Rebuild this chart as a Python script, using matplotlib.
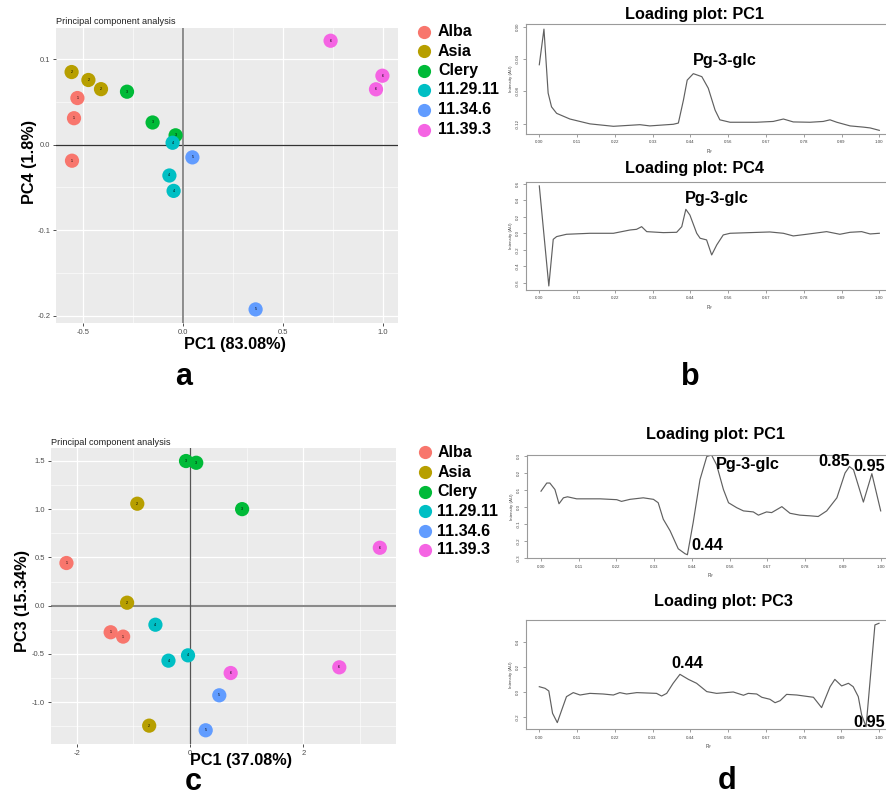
import numpy as np
import matplotlib
matplotlib.use('Agg')
import matplotlib.pyplot as plt
from matplotlib.lines import Line2D

W, H = 886, 796
plt.rcParams['font.family'] = ['Liberation Sans', 'DejaVu Sans']

groups = ['Alba', 'Asia', 'Clery', '11.29.11', '11.34.6', '11.39.3']
colors = ['#F8766D', '#B79F00', '#00BA38', '#00BFC4', '#619CFF', '#F564E3']

# panel a: scores PC1 vs PC4
a_group = [0, 0, 0, 1, 1, 1, 2, 2, 2, 3, 3, 3, 4, 4, 5, 5, 5]
a_pc1 = [-0.528, -0.545, -0.555, -0.557, -0.473, -0.41, -0.28, -0.152, -0.037,
         -0.052, -0.068, -0.047, 0.047, 0.363, 0.738, 0.997, 0.965]
a_pc4 = [0.0546, 0.031, -0.0187, 0.085, 0.0757, 0.065, 0.062, 0.026, 0.011,
         0.0023, -0.036, -0.054, -0.0148, -0.1926, 0.1216, 0.0807, 0.0648]

# panel c: scores PC1 vs PC3
c_group = [0, 0, 0, 1, 1, 1, 2, 2, 2, 3, 3, 3, 4, 4, 5, 5, 5]
c_pc1 = [-2.18, -1.40, -1.18, -0.93, -1.11, -0.72, -0.07, 0.11, 0.92,
         -0.61, -0.38, -0.035, 0.517, 0.277, 3.35, 0.718, 2.635]
c_pc3 = [0.442, -0.275, -0.32, 1.056, 0.031, -1.242, 1.498, 1.48, 1.0,
         -0.197, -0.569, -0.514, -0.928, -1.29, 0.60, -0.697, -0.638]

# loading curves
rf_ticklabels = ['0.00', '0.11', '0.22', '0.33', '0.44', '0.56', '0.67', '0.78', '0.89', '1.00']

b1_rf = [0, 0.0137, 0.026, 0.036, 0.051, 0.09, 0.149, 0.218, 0.296, 0.325, 0.394, 0.409,
         0.424, 0.435, 0.453, 0.478, 0.497, 0.517, 0.531, 0.561, 0.639, 0.688, 0.718,
         0.747, 0.796, 0.835, 0.855, 0.875, 0.914, 0.953, 0.973, 1.0]
b1_int = [-0.047, -0.003, -0.082, -0.099, -0.107, -0.114, -0.120, -0.123, -0.121, -0.1225,
          -0.1205, -0.119, -0.0905, -0.066, -0.058, -0.0617, -0.076, -0.103, -0.115, -0.118,
          -0.118, -0.117, -0.114, -0.1176, -0.118, -0.117, -0.115, -0.118, -0.1225, -0.124,
          -0.125, -0.128]

b4_rf = [0, 0.028, 0.041, 0.051, 0.08, 0.149, 0.218, 0.267, 0.286, 0.301, 0.316, 0.365,
         0.404, 0.419, 0.431, 0.443, 0.463, 0.473, 0.492, 0.507, 0.522, 0.541, 0.561,
         0.678, 0.718, 0.747, 0.786, 0.845, 0.884, 0.914, 0.948, 0.973, 1.0]
b4_int = [0.573, -0.637, -0.073, -0.04, -0.012, 0.0, 0.0, 0.04, 0.048, 0.08, 0.02, 0.008,
          0.012, 0.08, 0.29, 0.22, 0.0, -0.06, -0.08, -0.262, -0.14, -0.02, 0.0,
          0.016, 0.0, -0.032, -0.012, 0.02, -0.012, 0.012, 0.02, -0.008, 0.0]

d1_rf = [0, 0.017, 0.026, 0.041, 0.053, 0.066, 0.078, 0.105, 0.174, 0.223, 0.237, 0.262,
         0.301, 0.331, 0.345, 0.36, 0.38, 0.404, 0.424, 0.431, 0.448, 0.468, 0.488, 0.502,
         0.517, 0.537, 0.552, 0.576, 0.596, 0.625, 0.64, 0.664, 0.679, 0.709, 0.733, 0.762,
         0.792, 0.816, 0.841, 0.871, 0.895, 0.908, 0.92, 0.949, 0.974, 1.0]
d1_int = [0.093, 0.141, 0.141, 0.103, 0.019, 0.054, 0.06, 0.048, 0.048, 0.043, 0.033, 0.045,
          0.054, 0.045, 0.025, -0.072, -0.14, -0.246, -0.275, -0.281, -0.091, 0.161, 0.297,
          0.306, 0.248, 0.103, 0.025, -0.004, -0.023, -0.029, -0.048, -0.029, -0.033, 0.002,
          -0.037, -0.048, -0.052, -0.056, -0.023, 0.054, 0.2, 0.238, 0.219, 0.029, 0.196, -0.023]

d3_rf = [0, 0.017, 0.028, 0.039, 0.053, 0.066, 0.08, 0.1, 0.12, 0.149, 0.188, 0.218, 0.237,
         0.257, 0.287, 0.345, 0.36, 0.375, 0.394, 0.414, 0.439, 0.463, 0.493, 0.522, 0.571,
         0.601, 0.615, 0.64, 0.655, 0.679, 0.694, 0.709, 0.728, 0.758, 0.807, 0.831, 0.856,
         0.87, 0.89, 0.91, 0.924, 0.939, 0.949, 0.962, 0.988, 1.0]
d3_int = [0.042, 0.029, 0.008, -0.169, -0.243, -0.143, -0.037, -0.005, -0.024, -0.011,
          -0.016, -0.024, -0.005, -0.016, -0.005, -0.011, -0.032, -0.011, 0.069, 0.14,
          0.10, 0.069, 0.003, -0.011, 0.0, -0.026, -0.011, -0.016, -0.042, -0.058,
          -0.085, -0.069, -0.019, -0.024, -0.042, -0.124, 0.042, 0.10, 0.048, 0.069,
          0.042, -0.037, -0.183, -0.275, 0.532, 0.545]

fig = plt.figure(figsize=(W / 100, H / 100), dpi=100)


def px_axes(l, t, r, b):
    return fig.add_axes([l / W, 1 - b / H, (r - l) / W, (b - t) / H])


def score_plot(box, xs, ys, grp, xlim, ylim, xmaj, xmin, xtl, ymaj, ymin, ytl, hcol, vcol):
    ax = px_axes(*box)
    ax.set_facecolor('#EBEBEB')
    for s in ax.spines.values():
        s.set_visible(False)
    for v in xmin:
        ax.axvline(v, color='white', lw=0.4, zorder=0)
    for v in ymin:
        ax.axhline(v, color='white', lw=0.4, zorder=0)
    for v in xmaj:
        ax.axvline(v, color='white', lw=0.9, zorder=0)
    for v in ymaj:
        ax.axhline(v, color='white', lw=0.9, zorder=0)
    ax.axhline(0, color=hcol[0], lw=hcol[1], zorder=1)
    ax.axvline(0, color=vcol[0], lw=vcol[1], zorder=1)
    for x, y, g in zip(xs, ys, grp):
        ax.scatter(x, y, s=105, color=colors[g], edgecolors='none', zorder=3)
        ax.text(x, y, str(g + 1), fontsize=2.6, ha='center', va='center', zorder=4)
    ax.set_xlim(xlim)
    ax.set_ylim(ylim)
    ax.set_xticks(xmaj)
    ax.set_xticklabels(xtl)
    ax.set_yticks(ymaj)
    ax.set_yticklabels(ytl)
    ax.tick_params(length=2.5, width=0.6, color='#333333', labelsize=5.5,
                   labelcolor='#4D4D4D', pad=1.5)
    return ax


def loading_plot(t, b, x0, x1, rf, inten, ylim, yticks, ytl):
    k = x1 - x0
    ax = px_axes(x0 - 0.04 * k, t, x1 + 0.04 * k, b)
    ax.plot(rf, inten, color='#606060', lw=0.85)
    ax.set_xlim(-0.04, 1.04)
    ax.set_ylim(ylim)
    ax.set_xticks([i / 9 for i in range(10)])
    ax.set_xticklabels(rf_ticklabels)
    ax.set_yticks(yticks)
    ax.set_yticklabels(ytl, rotation=90, va='center')
    ax.tick_params(labelsize=3.2, length=2, width=0.5, color='#777777', pad=2.5,
                   labelcolor='#444444')
    for s in ax.spines.values():
        s.set_color('#9a9a9a')
        s.set_linewidth(0.8)
    ax.set_ylabel('Intensity (AU)', fontsize=3.2, labelpad=2, color='#444444')
    ax.set_xlabel('R$_F$', fontsize=3.4, labelpad=2, color='#444444')
    return ax


# score plots
score_plot((56, 28, 398, 323), a_pc1, a_pc4, a_group, (-0.635, 1.075), (-0.2085, 0.1365),
           [-0.5, 0.0, 0.5, 1.0], [-0.25, 0.25, 0.75], ['-0.5', '0.0', '0.5', '1.0'],
           [-0.2, -0.1, 0.0, 0.1], [-0.15, -0.05, 0.05], ['-0.2', '-0.1', '0.0', '0.1'],
           ('#333333', 0.9), ('#7a7a7a', 1.2))
score_plot((50.7, 447.7, 395.7, 744), c_pc1, c_pc3, c_group, (-2.458, 3.63), (-1.432, 1.636),
           [-2, 0, 2], [-1, 1, 3], ['-2', '0', '2'],
           [-1.0, -0.5, 0.0, 0.5, 1.0, 1.5], [-1.25, -0.75, -0.25, 0.25, 0.75, 1.25],
           ['-1.0', '-0.5', '0.0', '0.5', '1.0', '1.5'],
           ('#8a8a8a', 1.5), ('#555555', 0.9))

# loading plots
loading_plot(24, 134, 539.3, 879.3, b1_rf, b1_int, (-0.1325, 0.0033),
             [0.0, -0.04, -0.08, -0.12], ['0.00', '-0.04', '-0.08', '-0.12'])
loading_plot(181.7, 290, 539.3, 879.3, b4_rf, b4_int, (-0.686, 0.624),
             [-0.6, -0.4, -0.2, 0.0, 0.2, 0.4, 0.6], ['-0.6', '-0.4', '-0.2', '0.0', '0.2', '0.4', '0.6'])
loading_plot(455, 558.3, 541, 880.7, d1_rf, d1_int, (-0.302, 0.306),
             [-0.3, -0.2, -0.1, 0.0, 0.1, 0.2, 0.3], ['-0.3', '-0.2', '-0.1', '0.0', '0.1', '0.2', '0.3'])
loading_plot(620, 729.3, 539.3, 879, d3_rf, d3_int, (-0.296, 0.571),
             [-0.2, 0.0, 0.2, 0.4], ['-0.2', '0.0', '0.2', '0.4'])

# overlay for texts in pixel coordinates
ov = fig.add_axes([0, 0, 1, 1])
ov.set_xlim(0, W)
ov.set_ylim(H, 0)
ov.axis('off')

bold = dict(fontsize=11.7, fontweight='bold', color='black')

ov.text(56, 24.5, 'Principal component analysis', fontsize=6.6, color='#222222', va='baseline')
ov.text(50.7, 445, 'Principal component analysis', fontsize=6.6, color='#222222', va='baseline')
ov.text(30, 162, 'PC4 (1.8%)', rotation=90, ha='center', va='center', **bold)
ov.text(23, 601, 'PC3 (15.34%)', rotation=90, ha='center', va='center', **bold)
ov.text(235, 349, 'PC1 (83.08%)', ha='center', va='baseline', **bold)
ov.text(241.5, 765, 'PC1 (37.08%)', ha='center', va='baseline', **bold)

# legends
for rows, mx, tx in [([31.7, 51, 70.7, 90, 110, 130], 424, 438),
                     ([452.3, 472.3, 491.7, 511, 531, 550], 425, 437.3)]:
    for y, g, c in zip(rows, groups, colors):
        ov.add_line(Line2D([mx], [y], marker='o', markersize=9.5, color=c, markeredgewidth=0))
        ov.text(tx, y, g, ha='left', va='center', fontsize=11.5, fontweight='bold')

# loading titles
ov.text(695, 18.5, 'Loading plot: PC1', ha='center', va='baseline', **bold)
ov.text(695, 172.5, 'Loading plot: PC4', ha='center', va='baseline', **bold)
ov.text(715.7, 439, 'Loading plot: PC1', ha='center', va='baseline', **bold)
ov.text(723.3, 606, 'Loading plot: PC3', ha='center', va='baseline', **bold)

# peak annotations
ov.text(725.3, 65, 'Pg-3-glc', ha='center', va='baseline', **bold)
ov.text(716.7, 203.5, 'Pg-3-glc', ha='center', va='baseline', **bold)
ov.text(748.3, 468.5, 'Pg-3-glc', ha='center', va='baseline', **bold)
ov.text(834, 466, '0.85', ha='center', va='baseline', **bold)
ov.text(885, 470.7, '0.95', ha='right', va='baseline', **bold)
ov.text(691.7, 550, '0.44', ha='left', va='baseline', **bold)
ov.text(671.7, 668.3, '0.44', ha='left', va='baseline', **bold)
ov.text(885, 726.7, '0.95', ha='right', va='baseline', **bold)

# panel letters
for x, y, s in [(184, 385, 'a'), (690, 385, 'b'), (193, 790, 'c'), (727, 789, 'd')]:
    ov.text(x, y, s, ha='center', va='baseline', fontsize=22, fontweight='bold')

fig.savefig('out.png', dpi=100)
